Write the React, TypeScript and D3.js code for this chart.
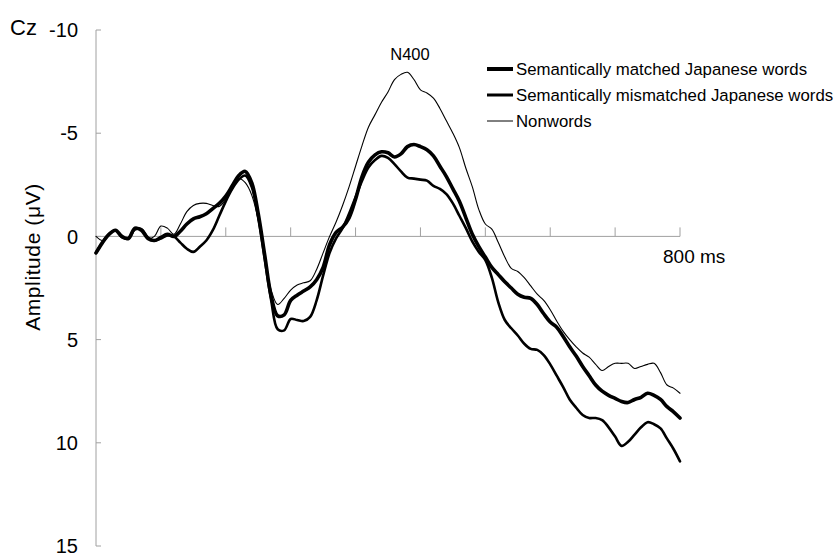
import React from "react";
import * as d3 from "d3";

// time points (ms), every 10 ms from -100 to 800
const times = d3.range(-100, 801, 10);

// amplitudes in µV (negative is up)
const matched = [
  0.8, 0.3, -0.1, -0.3, 0.0, 0.1, -0.4, -0.3, 0.1, 0.2,
  0.05, -0.1, 0.0, -0.25, -0.6, -0.85, -0.95, -1.1, -1.35, -1.6,
  -1.95, -2.45, -2.95, -3.15, -2.6, -1.1, 0.9, 2.9, 3.85, 3.8,
  3.1, 2.85, 2.65, 2.45, 2.1, 1.5, 0.4, -0.2, -0.45, -0.9,
  -1.8, -2.9, -3.6, -3.95, -4.1, -4.05, -3.85, -4.0, -4.35, -4.45,
  -4.35, -4.2, -3.9, -3.4, -2.9, -2.3, -1.7, -0.9, -0.1, 0.5,
  1.0, 1.5, 1.85, 2.2, 2.5, 2.8, 2.95, 3.0, 3.3, 3.75,
  4.15, 4.4, 4.85, 5.35, 5.8, 6.3, 6.75, 7.2, 7.5, 7.7,
  7.85, 8.0, 8.05, 7.9, 7.8, 7.6, 7.7, 7.9, 8.25, 8.5,
  8.8,
];

const mismatched = [
  0.8, 0.3, -0.1, -0.3, 0.05, 0.1, -0.35, -0.35, 0.05, 0.2,
  0.1, -0.05, 0.0, 0.3, 0.6, 0.75, 0.5, 0.2, -0.3, -1.0,
  -1.7, -2.3, -2.75, -2.95, -2.4, -0.9, 1.1, 3.1, 4.5, 4.55,
  4.0, 4.05, 4.1, 3.9, 3.1, 1.9, 0.8, 0.1, -0.4, -1.1,
  -1.9, -2.7, -3.35, -3.7, -3.9, -3.8, -3.5, -3.15, -2.85, -2.8,
  -2.75, -2.7, -2.45, -2.3, -2.05, -1.6, -1.0, -0.4, 0.25, 0.75,
  1.15, 2.0, 3.2, 4.05, 4.45, 4.8, 5.2, 5.45, 5.5, 5.75,
  6.2, 6.75, 7.3, 7.9, 8.3, 8.65, 8.8, 8.8, 8.9, 9.25,
  9.7, 10.15, 9.95, 9.6, 9.25, 9.0, 9.1, 9.3, 9.8, 10.3,
  10.9,
];

const nonwords = [
  0.0, 0.2, -0.05, -0.3, -0.05, 0.1, -0.3, -0.3, 0.1, 0.0,
  -0.5, -0.4, -0.1, -0.6, -1.2, -1.5, -1.6, -1.6, -1.5, -1.45,
  -1.8, -2.3, -2.8, -2.6, -2.0, -0.8, 1.0, 2.6, 3.3, 3.0,
  2.6, 2.35, 2.25, 2.15, 1.6, 0.8, 0.0, -0.7, -1.5, -2.4,
  -3.4, -4.4, -5.3, -5.9, -6.5, -7.0, -7.6, -7.85, -7.95, -7.6,
  -7.1, -6.95, -6.7, -6.2, -5.6, -5.0, -4.3, -3.3, -2.4, -1.3,
  -0.6, -0.35, 0.3, 1.0, 1.55, 1.7, 2.0, 2.4, 2.8, 3.1,
  3.55, 4.1, 4.6, 5.0, 5.35, 5.65, 5.85, 6.2, 6.5, 6.3,
  6.15, 6.15, 6.15, 6.4, 6.3, 6.2, 6.15, 6.6, 7.2, 7.35,
  7.6,
];

const seriesNames = [
  "Semantically matched Japanese words",
  "Semantically mismatched Japanese words",
  "Nonwords",
];
const seriesWidths = [3.6, 2.6, 1.1];
const legendWidths = [4, 3, 1];

const xTicks = d3.range(0, 801, 100);
const yTicks = [-10, -5, 0, 5, 10, 15];

const font = "'Liberation Sans', Arial, sans-serif";

export default function App() {
  const width = 835;
  const height = 553;

  const x = d3.scaleLinear().domain([-100, 800]).range([96, 680]);
  const y = d3.scaleLinear().domain([-10, 15]).range([30, 546]);

  const line = d3
    .line<number>()
    .x((_, i) => x(times[i]))
    .y((d) => y(d))
    .curve(d3.curveCatmullRom.alpha(0.5));

  const allSeries = [matched, mismatched, nonwords];

  return (
    <div style={{ position: "absolute", left: 0, top: 0 }}>
      <svg width={width} height={height} style={{ display: "block", background: "#fff" }}>
        {/* y axis */}
        <line x1={x(-100)} x2={x(-100)} y1={y(-10)} y2={y(15)} stroke="#a0a0a0" strokeWidth={1} />
        {yTicks.map((t) => (
          <g key={t}>
            <line x1={x(-100)} x2={x(-100) + 5} y1={y(t)} y2={y(t)} stroke="#a0a0a0" />
            <text
              x={78}
              y={y(t)}
              dy="0.36em"
              textAnchor="end"
              fontFamily={font}
              fontSize={20}
              fill="#000"
            >
              {t}
            </text>
          </g>
        ))}

        {/* x axis */}
        <line x1={x(-100)} x2={x(800)} y1={y(0)} y2={y(0)} stroke="#a0a0a0" strokeWidth={1} />
        {xTicks.map((t) => (
          <line key={t} x1={x(t)} x2={x(t)} y1={y(0)} y2={y(0) - 9} stroke="#a0a0a0" />
        ))}

        {/* waveforms */}
        {allSeries.map((s, i) => (
          <path
            key={seriesNames[i]}
            d={line(s) || ""}
            fill="none"
            stroke="#000"
            strokeWidth={seriesWidths[i]}
            strokeLinejoin="round"
            strokeLinecap="round"
          />
        ))}

        {/* labels */}
        <text x={10} y={35} fontFamily={font} fontSize={22} fill="#000">
          Cz
        </text>
        <text
          transform={`translate(40, 257) rotate(-90)`}
          textAnchor="middle"
          fontFamily={font}
          fontSize={21}
          letterSpacing={0.6}
          fill="#000"
        >
          Amplitude (μV)
        </text>
        <text x={410} y={60} textAnchor="middle" fontFamily={font} fontSize={16.5} fill="#000">
          N400
        </text>
        <text x={663} y={263} fontFamily={font} fontSize={19} fill="#000">
          800 ms
        </text>

        {/* legend */}
        {seriesNames.map((name, i) => {
          const ly = 69 + i * 26;
          return (
            <g key={name}>
              <line x1={487} x2={513} y1={ly} y2={ly} stroke="#000" strokeWidth={legendWidths[i]} />
              <text
                x={516}
                y={ly}
                dy="0.36em"
                fontFamily={font}
                fontSize={16.8}
                fill="#000"
              >
                {name}
              </text>
            </g>
          );
        })}
      </svg>
    </div>
  );
}
